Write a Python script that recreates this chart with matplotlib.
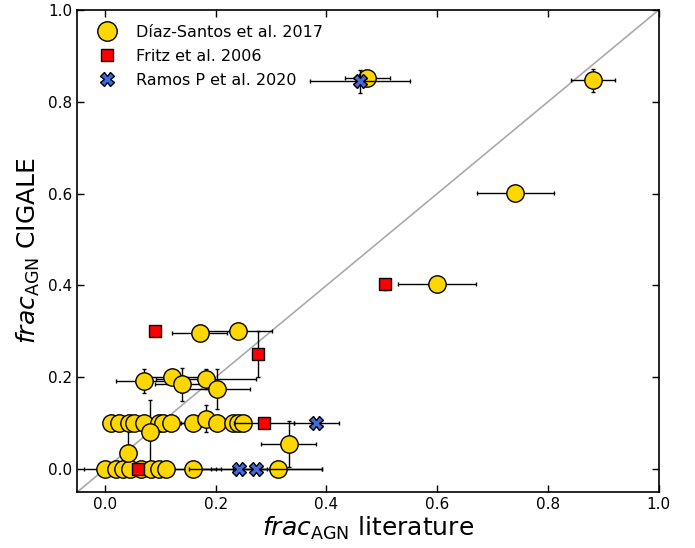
import matplotlib.pyplot as plt
import numpy as np
from matplotlib.lines import Line2D

# Díaz-Santos et al. 2017
ds_x = [0.474, 0.881, 0.741, 0.600, 0.171, 0.241, 0.070, 0.121, 0.140, 0.182, 0.202,
        0.011, 0.025, 0.043, 0.052, 0.070, 0.097, 0.105, 0.120, 0.081, 0.160, 0.182,
        0.202, 0.232, 0.241, 0.249, 0.332,
        0.000, 0.020, 0.032, 0.045, 0.065, 0.083, 0.097, 0.110, 0.160, 0.041, 0.312]
ds_y = [0.852, 0.847, 0.601, 0.403, 0.296, 0.300, 0.192, 0.200, 0.185, 0.196, 0.174,
        0.100, 0.100, 0.100, 0.100, 0.100, 0.100, 0.100, 0.100, 0.080, 0.100, 0.110,
        0.100, 0.100, 0.100, 0.100, 0.054,
        0.000, 0.000, 0.000, 0.000, 0.000, 0.000, 0.000, 0.000, 0.000, 0.035, 0.000]
ds_xerr = [0.040, 0.040, 0.070, 0.070, 0.050, 0.060, 0.050, 0.050, 0.050, 0.090, 0.060,
           0.000, 0.000, 0.000, 0.000, 0.000, 0.040, 0.040, 0.000, 0.000, 0.030, 0.000,
           0.000, 0.000, 0.000, 0.000, 0.050,
           0.038, 0.000, 0.000, 0.000, 0.000, 0.000, 0.000, 0.100, 0.040, 0.010, 0.080]
ds_yerr = [0.000, 0.025, 0.000, 0.000, 0.015, 0.000, 0.027, 0.000, 0.036, 0.022, 0.044,
           0.000, 0.000, 0.000, 0.000, 0.000, 0.000, 0.000, 0.000, 0.070, 0.000, 0.030,
           0.000, 0.000, 0.000, 0.000, 0.050,
           0.000, 0.000, 0.000, 0.000, 0.000, 0.000, 0.000, 0.000, 0.000, 0.050, 0.000]

# Fritz et al. 2006
fr_x = [0.090, 0.276, 0.505, 0.288, 0.060]
fr_y = [0.300, 0.250, 0.403, 0.100, 0.000]
fr_xerr = [0.000, 0.000, 0.000, 0.054, 0.000]
fr_yerr = [0.000, 0.050, 0.012, 0.000, 0.000]

# Ramos P et al. 2020
ra_x = [0.461, 0.382, 0.242, 0.272]
ra_y = [0.845, 0.100, 0.000, 0.000]
ra_xerr = [0.090, 0.040, 0.050, 0.120]
ra_yerr = [0.025, 0.000, 0.000, 0.000]

labels = ['Díaz-Santos et al. 2017', 'Fritz et al. 2006', 'Ramos P et al. 2020']

fig = plt.figure(figsize=(6.95, 5.48), dpi=100)
ax = fig.add_axes([0.111, 0.102, 0.837, 0.880])

# 1:1 line
ax.plot([-0.05, 1.0], [-0.05, 1.0], color='#aaaaaa', lw=1.2, zorder=1)

eb = dict(ecolor='k', elinewidth=1.0, capsize=1.5, capthick=1.0, mec='k', mew=1.0)
ax.errorbar(ds_x, ds_y, xerr=ds_xerr, yerr=ds_yerr, fmt='o', ms=12.5, mfc='gold',
            zorder=2, **eb)
ax.errorbar(fr_x, fr_y, xerr=fr_xerr, yerr=fr_yerr, fmt='s', ms=9, mfc='red',
            zorder=3, **eb)
ax.errorbar(ra_x, ra_y, xerr=ra_xerr, yerr=ra_yerr, fmt='X', ms=10, mfc='royalblue',
            zorder=4, **eb)

ax.set_xlim(-0.05, 1.0)
ax.set_ylim(-0.05, 1.0)
ax.set_xticks(np.arange(0, 1.01, 0.2))
ax.set_yticks(np.arange(0, 1.01, 0.2))
ax.tick_params(direction='in', top=True, right=True, labelsize=11, length=5, width=1)
for s in ax.spines.values():
    s.set_linewidth(1.2)

ax.set_xlabel(r'$frac_{\rm AGN}$ literature', fontsize=18, labelpad=2)
ax.set_ylabel(r'$frac_{\rm AGN}$ CIGALE', fontsize=18, labelpad=4)

# legend: markers only, no error bars
handles = [
    Line2D([], [], ls='none', marker='o', ms=14, mfc='gold', mec='k', mew=1.0),
    Line2D([], [], ls='none', marker='s', ms=9, mfc='red', mec='k', mew=1.0),
    Line2D([], [], ls='none', marker='X', ms=10, mfc='royalblue', mec='k', mew=1.0),
]
ax.legend(handles, labels, loc='upper left', bbox_to_anchor=(0.024, 0.969),
          frameon=False, fontsize=11.5, handlelength=2.0, handletextpad=0.8,
          borderaxespad=0, borderpad=0, labelspacing=0.57)

plt.savefig('out.png', dpi=100)
